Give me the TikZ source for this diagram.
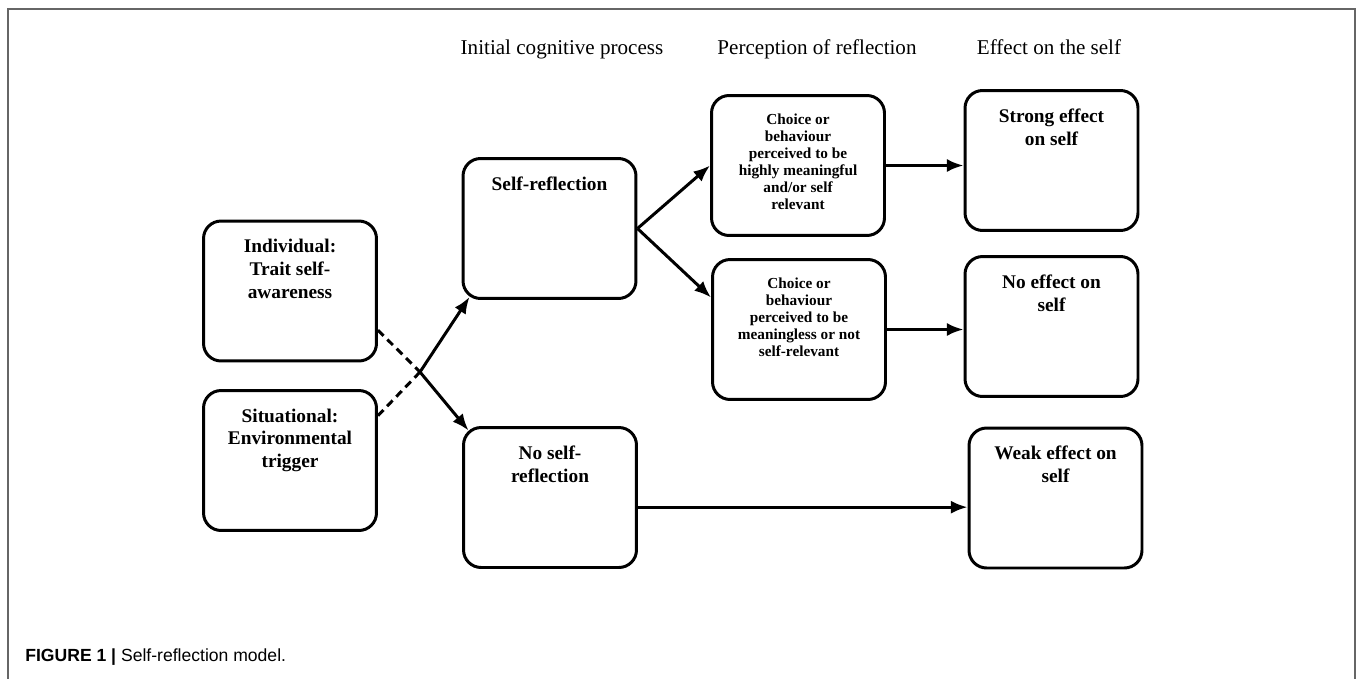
\documentclass[tikz,border=0pt]{standalone}
\usepackage{fontspec}
\setmainfont{Liberation Serif}
\newfontfamily\captionfont{Liberation Sans}
\usetikzlibrary{arrows.meta}

\tikzstyle{line} = [draw, line width=1.7pt, -{Latex[length=9.5pt,width=7.5pt]}]
\tikzstyle{dashline} = [draw, line width=1.7pt, dash pattern=on 4.5pt off 3pt]
\tikzstyle{box} = [draw, line width=1.7pt, rounded corners=10pt, minimum width=3.46cm, minimum height=2.8cm, inner sep=0pt]
\tikzstyle{boxtext} = [font=\fontsize{11}{13}\selectfont\bfseries, align=center, anchor=north, inner sep=0pt, yshift=-11pt]
\tikzstyle{smalltext} = [font=\fontsize{8.7}{9.7}\selectfont\bfseries, align=center, anchor=north, inner sep=0pt, yshift=-11pt]
\tikzstyle{head} = [font=\fontsize{12}{14}\selectfont, anchor=base, inner sep=0pt]

\begin{document}
\begin{tikzpicture}[x=0.02cm, y=-0.02cm]
		\useasboundingbox (0,0) rectangle (1358,679);
		\draw[black!60, line width=0.9pt] (8,679) -- (8,9) -- (1355,9) -- (1355,679); % Rahmen
		
		\node[head] (h1) at (562,55) {Initial cognitive process};
		\node[head] (h2) at (817,55) {Perception of reflection};
		\node[head] (h3) at (1049,55) {Effect on the self};
		
		\node[box] (ind) at (290,291) {};
		\node[boxtext] (indt) at (ind.north) {Individual:\\Trait self-\\awareness};
		\node[box] (sit) at (290,460.5) {};
		\node[boxtext] (sitt) at (sit.north) {Situational:\\Environmental\\trigger};
		
		\node[box] (self) at (549.5,228.5) {};
		\node[boxtext] (selft) at (self.north) {Self-reflection};
		\node[box] (noself) at (550,497.5) {};
		\node[boxtext] (noselft) at (noself.north) {No self-\\reflection};
		
		\node[box] (c1) at (798,165.5) {};
		\node[smalltext] (c1t) at (c1.north) {Choice or\\behaviour\\perceived to be\\highly meaningful\\and/or self\\relevant};
		\node[box] (c2) at (799,329.5) {};
		\node[smalltext] (c2t) at (c2.north) {Choice or\\behaviour\\perceived to be\\meaningless or not\\self-relevant};
		
		\node[box] (strong) at (1051.5,160.5) {};
		\node[boxtext] (strongt) at (strong.north) {Strong effect\\on self};
		\node[box] (noeff) at (1051.5,326.5) {};
		\node[boxtext] (nofft) at (noeff.north) {No effect on\\self};
		\node[box] (weak) at (1055.5,498) {};
		\node[boxtext] (weakt) at (weak.north) {Weak effect on\\self};
		
		\coordinate (cross) at (420,372); % Kreuzung
		\draw[dashline] (ind.-24) -- (cross);
		\draw[dashline] (sit.27) -- (cross);
		\draw[line] (cross) -- ([shift={(8,-3)}]self.south west);
		\draw[line] (cross) -- ([shift={(6.5,4.5)}]noself.north west);
		
		\draw[line] (self.east) -- (c1.west);
		\draw[line] (self.east) -- (c2.160);
		\draw[line] (c1.east) -- (c1.east -| strong.west);
		\draw[line] (c2.east) -- (c2.east -| noeff.west);
		\coordinate (nsout) at ([yshift=-5.5pt]noself.east);
		\draw[line] (nsout) -- (nsout -| weak.west);
		
		\node[anchor=base west, inner sep=0pt, font=\captionfont\fontsize{10}{12}\selectfont] (cap) at (25,661) {\textbf{FIGURE 1 |} Self-reflection model.};
	\end{tikzpicture}
\end{document}
